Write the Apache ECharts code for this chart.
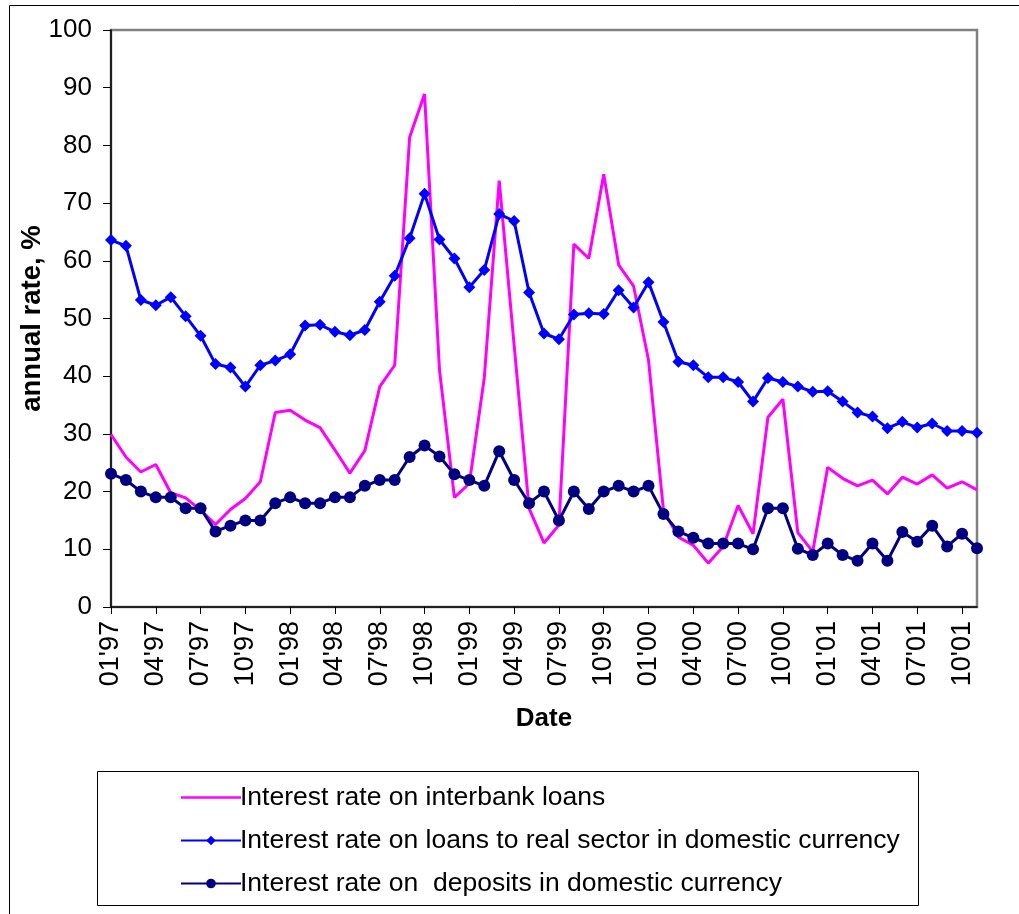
<!DOCTYPE html>
<html>
<head>
<meta charset="utf-8">
<title>Interest rates, 1997-2001</title>
<script src="https://cdn.jsdelivr.net/npm/echarts@6/dist/echarts.min.js"></script>
<style>
  html, body { margin: 0; padding: 0; background: #ffffff; }
  #chart { width: 1019px; height: 914px; }
</style>
</head>
<body>
<div id="chart"></div>
<script>
// Monthly observations, Jan 1997 - Nov 2001
const months = [
  "01'97","02'97","03'97","04'97","05'97","06'97","07'97","08'97","09'97","10'97","11'97","12'97",
  "01'98","02'98","03'98","04'98","05'98","06'98","07'98","08'98","09'98","10'98","11'98","12'98",
  "01'99","02'99","03'99","04'99","05'99","06'99","07'99","08'99","09'99","10'99","11'99","12'99",
  "01'00","02'00","03'00","04'00","05'00","06'00","07'00","08'00","09'00","10'00","11'00","12'00",
  "01'01","02'01","03'01","04'01","05'01","06'01","07'01","08'01","09'01","10'01","11'01"
];

// Interest rate on interbank loans, % p.a.
const interbank = [
  29.9, 26.0, 23.4, 24.7, 19.8, 18.9, 16.8, 14.3, 16.9, 18.8, 21.7, 33.7,
  34.1, 32.4, 31.1, 27.2, 23.2, 27.1, 38.2, 41.9, 81.4, 88.9, 41.1, 19.0,
  21.4, 39.7, 73.9, 45.4, 17.1, 11.1, 14.2, 62.9, 60.4, 75.0, 59.3, 55.6,
  42.8, 16.8, 12.1, 10.7, 7.6, 10.5, 17.6, 12.7, 32.9, 36.0, 12.9, 9.6,
  24.2, 22.3, 21.0, 22.0, 19.6, 22.5, 21.3, 22.9, 20.6, 21.7, 20.3
];

// Interest rate on loans to real sector in domestic currency, % p.a.
const realSector = [
  63.6, 62.6, 53.2, 52.3, 53.7, 50.4, 47.0, 42.1, 41.5, 38.2, 41.9, 42.7,
  43.8, 48.8, 48.9, 47.7, 47.1, 48.0, 52.9, 57.4, 63.9, 71.6, 63.7, 60.4,
  55.4, 58.4, 68.1, 66.9, 54.5, 47.4, 46.4, 50.7, 50.9, 50.8, 54.9, 51.9,
  56.3, 49.4, 42.5, 41.9, 39.8, 39.8, 39.0, 35.6, 39.7, 39.0, 38.2, 37.3,
  37.4, 35.6, 33.7, 33.0, 31.0, 32.1, 31.1, 31.8, 30.5, 30.5, 30.2
];

// Interest rate on deposits in domestic currency, % p.a.
const deposits = [
  23.1, 22.0, 20.0, 19.0, 19.0, 17.1, 17.1, 13.1, 14.1, 15.0, 15.0, 18.0,
  19.0, 18.0, 18.0, 19.0, 19.0, 21.0, 22.0, 22.0, 26.0, 28.0, 26.1, 23.0,
  22.0, 21.0, 27.0, 22.0, 18.0, 20.0, 15.0, 20.0, 17.0, 20.0, 21.0, 20.0,
  21.0, 16.1, 13.1, 12.0, 11.0, 11.0, 11.0, 10.0, 17.1, 17.1, 10.1, 9.0,
  11.0, 9.0, 8.0, 11.0, 8.0, 13.0, 11.3, 14.1, 10.5, 12.7, 10.2
];

const seriesNames = [
  'Interest rate on interbank loans',
  'Interest rate on loans to real sector in domestic currency',
  'Interest rate on  deposits in domestic currency'
];

const FONT = '"Liberation Sans", Arial, Helvetica, sans-serif';

const chart = echarts.init(document.getElementById('chart'), null, { renderer: 'canvas' });

chart.setOption({
  backgroundColor: '#ffffff',
  animation: false,
  textStyle: { fontFamily: FONT, color: '#000000' },
  grid: {
    left: 111, right: 42, top: 30, bottom: 307,
    show: true, borderColor: '#808080', borderWidth: 2.5, backgroundColor: 'transparent'
  },
  graphic: [
    // outer frame (left and top edges)
    { type: 'line', shape: { x1: 9.5, y1: 5.5, x2: 9.5, y2: 914 }, style: { stroke: '#000', lineWidth: 1 } },
    { type: 'line', shape: { x1: 9.5, y1: 5.5, x2: 1019, y2: 5.5 }, style: { stroke: '#000', lineWidth: 1 } },
    // legend box
    { type: 'rect', shape: { x: 97.5, y: 771.5, width: 821, height: 134 }, style: { fill: 'none', stroke: '#000', lineWidth: 1 } }
  ],
  legend: {
    orient: 'vertical',
    left: 175, top: 779,
    itemWidth: 60, itemHeight: 12, itemGap: 16,
    textStyle: { fontFamily: FONT, fontSize: 26.5, color: '#000000', padding: [0, 0, 0, -6] },
    data: [
      // plain line key for the interbank series (no marker)
      { name: seriesNames[0], icon: 'path://M0,0H240V10H0Z' },
      { name: seriesNames[1] },
      { name: seriesNames[2] }
    ]
  },
  xAxis: {
    type: 'category',
    data: months,
    boundaryGap: false,
    name: 'Date',
    nameLocation: 'middle',
    nameGap: 99,
    nameMoveOverlap: false,
    nameTextStyle: { fontFamily: FONT, fontSize: 26, fontWeight: 'bold', color: '#000' },
    axisLine: { lineStyle: { color: '#000000', width: 1.5 } },
    axisTick: { show: true, inside: false, length: 7, interval: 2, lineStyle: { color: '#000', width: 1 } },
    axisLabel: { interval: 2, rotate: 90, fontSize: 27, color: '#000', margin: 14, fontFamily: FONT },
    splitLine: { show: false }
  },
  yAxis: {
    type: 'value',
    min: 0, max: 100, interval: 10,
    name: 'annual rate, %',
    nameLocation: 'middle',
    nameGap: 65,
    nameMoveOverlap: false,
    nameRotate: 90,
    nameTextStyle: { fontFamily: FONT, fontSize: 27.5, fontWeight: 'bold', color: '#000' },
    axisLine: { show: true, lineStyle: { color: '#000000', width: 1.5 } },
    axisTick: { show: true, inside: false, length: 8, lineStyle: { color: '#000', width: 1 } },
    axisLabel: { fontSize: 26, color: '#000', margin: 19, fontFamily: FONT },
    splitLine: { show: false }
  },
  series: [
    {
      name: seriesNames[0], type: 'line', data: interbank,
      symbol: 'none', showSymbol: false,
      lineStyle: { color: '#FF00FF', width: 3 },
      itemStyle: { color: '#FF00FF' },
      z: 2
    },
    {
      name: seriesNames[1], type: 'line', data: realSector,
      symbol: 'diamond', symbolSize: 12, showSymbol: true, showAllSymbol: true,
      lineStyle: { color: '#0000FF', width: 3 },
      itemStyle: { color: '#0000FF' },
      z: 3
    },
    {
      name: seriesNames[2], type: 'line', data: deposits,
      symbol: 'circle', symbolSize: 12, showSymbol: true, showAllSymbol: true,
      lineStyle: { color: '#000080', width: 3 },
      itemStyle: { color: '#000080' },
      z: 4
    }
  ]
});
</script>
</body>
</html>
